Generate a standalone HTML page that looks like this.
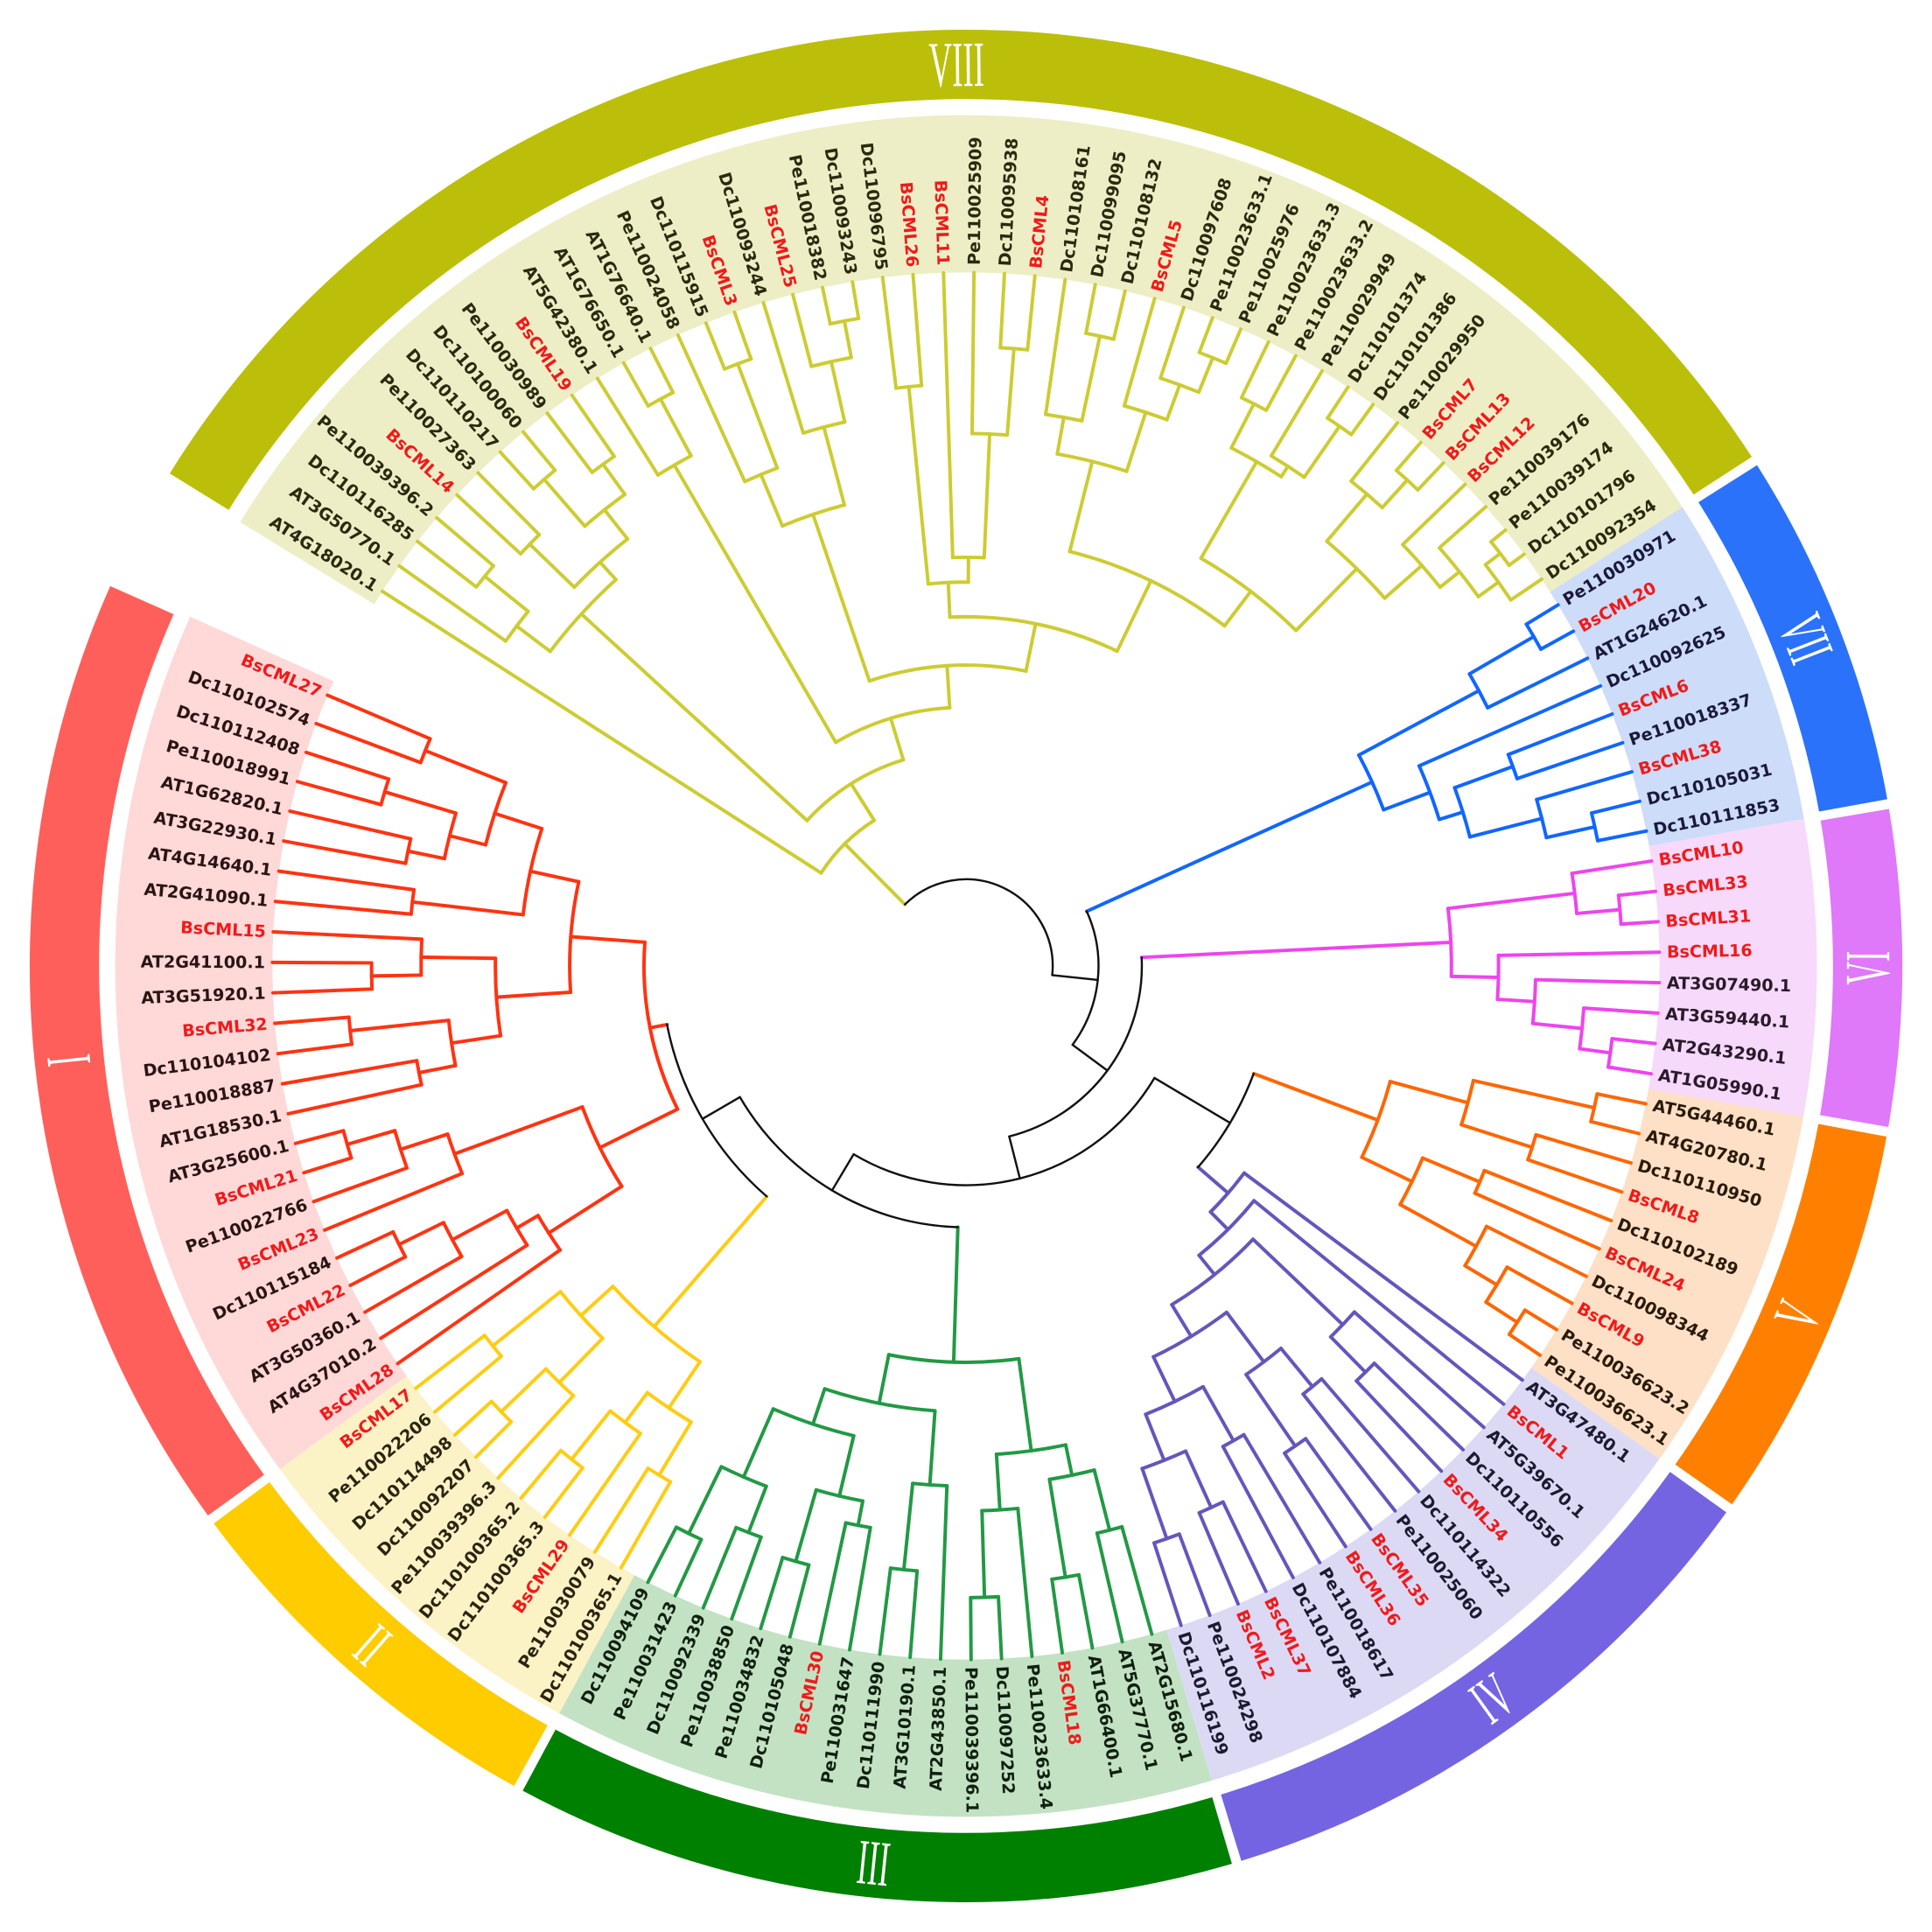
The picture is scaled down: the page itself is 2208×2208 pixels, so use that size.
<!DOCTYPE html>
<html><head><meta charset="utf-8">
<style>
html,body{margin:0;padding:0;background:#fff;}
svg{display:block;}
text{font-family:"DejaVu Sans","Liberation Sans",sans-serif;}
</style></head>
<body>
<svg id="s" xmlns="http://www.w3.org/2000/svg" width="2208" height="2208" viewBox="0 0 1560 1560"></svg>
<script>
const cx=780,cy=780,TIP=560,LR=566;
const names=["AT4G18020.1","AT3G50770.1","Dc110116285","Pe110039396.2","BsCML14","Pe110027363","Dc110110217","Dc110100060","Pe110030989","BsCML19","AT5G42380.1","AT1G76650.1","AT1G76640.1","Pe110024058","Dc110115915","BsCML3","Dc110093244","BsCML25","Pe110018382","Dc110093243","Dc110096795","BsCML26","BsCML11","Pe110025909","Dc110095938","BsCML4","Dc110108161","Dc110099095","Dc110108132","BsCML5","Dc110097608","Pe110023633.1","Pe110025976","Pe110023633.3","Pe110023633.2","Pe110029949","Dc110101374","Dc110101386","Pe110029950","BsCML7","BsCML13","BsCML12","Pe110039176","Pe110039174","Dc110101796","Dc110092354",
"Pe110030971","BsCML20","AT1G24620.1","Dc110092625","BsCML6","Pe110018337","BsCML38","Dc110105031","Dc110111853",
"BsCML10","BsCML33","BsCML31","BsCML16","AT3G07490.1","AT3G59440.1","AT2G43290.1","AT1G05990.1",
"AT5G44460.1","AT4G20780.1","Dc110110950","BsCML8","Dc110102189","BsCML24","Dc110098344","BsCML9","Pe110036623.2","Pe110036623.1",
"AT3G47480.1","BsCML1","AT5G39670.1","Dc110110556","BsCML34","Dc110114322","Pe110025060","BsCML35","BsCML36","Pe110018617","Dc110107884","BsCML37","BsCML2","Pe110024298","Dc110116199",
"AT2G15680.1","AT5G37770.1","AT1G66400.1","BsCML18","Pe110023633.4","Dc110097252","Pe110039396.1","AT2G43850.1","AT3G10190.1","Dc110111990","Pe110031647","BsCML30","Dc110105048","Pe110034832","Pe110038850","Dc110092339","Pe110031423","Dc110094109",
"Dc110100365.1","Pe110030079","BsCML29","Dc110100365.3","Dc110100365.2","Pe110039396.3","Dc110092207","Dc110114498","Pe110022206","BsCML17",
"BsCML28","AT4G37010.2","AT3G50360.1","BsCML22","Dc110115184","BsCML23","Pe110022766","BsCML21","AT3G25600.1","AT1G18530.1","Pe110018887","Dc110104102","BsCML32","AT3G51920.1","AT2G41100.1","BsCML15","AT2G41090.1","AT4G14640.1","AT3G22930.1","AT1G62820.1","Pe110018991","Dc110112408","Dc110102574","BsCML27"];
const clades=[
 {n:"VIII",s:0,e:45,band:"#bbbf09",bg:"#eeeec6",br:"#cccc33",tc:"#2a2a10"},
 {n:"VII",s:46,e:54,band:"#2b72fb",bg:"#cddcf8",br:"#1166ff",tc:"#1a1a3a"},
 {n:"VI",s:55,e:62,band:"#df78f9",bg:"#f6d9fb",br:"#ee44ee",tc:"#2a1a2a"},
 {n:"V",s:63,e:72,band:"#ff8000",bg:"#fde0c6",br:"#ff6600",tc:"#2a1a0a"},
 {n:"IV",s:73,e:87,band:"#7464e2",bg:"#dcd9f5",br:"#6655bb",tc:"#1a1a30"},
 {n:"III",s:88,e:105,band:"#008000",bg:"#c3e2c3",br:"#229944",tc:"#102010"},
 {n:"II",s:106,e:115,band:"#ffcc00",bg:"#fbf2c6",br:"#ffcc11",tc:"#2a2410"},
 {n:"I",s:116,e:139,band:"#ff5f5a",bg:"#ffd8d8",br:"#ff3311",tc:"#2a1414"}];
function ang(i){return 212.7+2.52*i;}
function P(r,a){const t=a*Math.PI/180;return [cx+r*Math.cos(t),cy+r*Math.sin(t)];}
function n(r,...c){return {r:r,c:c};}
let out=[];
function f(v){return v.toFixed(2);}
function arcPath(r,a1,a2){const p1=P(r,a1),p2=P(r,a2);const la=(a2-a1)>180?1:0;return `M${f(p1[0])} ${f(p1[1])}A${r} ${r} 0 ${la} 1 ${f(p2[0])} ${f(p2[1])}`;}
function sector(r1,r2,a1,a2,fill){const p1=P(r2,a1),p2=P(r2,a2),p3=P(r1,a2),p4=P(r1,a1);const la=(a2-a1)>180?1:0;
 out.push(`<path d="M${f(p1[0])} ${f(p1[1])}A${r2} ${r2} 0 ${la} 1 ${f(p2[0])} ${f(p2[1])}L${f(p3[0])} ${f(p3[1])}A${r1} ${r1} 0 ${la} 0 ${f(p4[0])} ${f(p4[1])}Z" fill="${fill}"/>`);}
function lay(nd){ if(typeof nd==="number") return {a:ang(nd),r:TIP,leaf:nd};
 nd.k=nd.c.map(lay); nd.a=(nd.k[0].a+nd.k[nd.k.length-1].a)/2; return nd;}
let lines=[];
function draw(nd,col,w){ if(nd.leaf!==undefined) return;
 for(const ch of nd.k){const p1=P(nd.r,ch.a),p2=P(ch.r,ch.a);
  lines.push(`<line x1="${f(p1[0])}" y1="${f(p1[1])}" x2="${f(p2[0])}" y2="${f(p2[1])}" stroke="${ch.col||col}" stroke-width="${ch.col?2.8:w}" stroke-linecap="round"/>`);
  if(!ch.col) draw(ch,col,w); }
 lines.push(`<path d="${arcPath(nd.r,nd.k[0].a,nd.k[nd.k.length-1].a)}" fill="none" stroke="${col}" stroke-width="${w}" stroke-linecap="round"/>`);}
// clade trees
const T={};
T.VIII=n(139,0,n(174,
  n(421,n(455,1,n(500,2,3)),n(440,n(490,4,5),n(470,n(520,6,7),n(500,8,9)))),
  n(209,n(468,10,n(520,11,12)),
    n(243,n(385,n(430,13,n(520,14,15)),n(450,16,n(500,17,n(530,18,19)))),
      n(282,n(310,n(470,20,21),n(330,22,n(430,23,n(500,24,25)))),
        n(345,n(420,n(450,26,n(520,27,28)),n(470,29,n(500,30,n(530,31,32)))),
          n(380,n(470,n(510,33,34),n(480,35,n(530,36,37))),n(450,n(500,38,n(530,39,40)),n(490,41,n(510,42,n(530,n(545,43,44),45)))))))))));
T.VII=n(360,n(470,n(530,46,47),48),n(400,49,n(420,n(470,50,51),n(480,52,n(520,53,54)))));
T.VI=n(392,n(495,55,n(530,56,57)),n(430,58,n(460,59,n(500,60,n(525,61,62)))));
T.V=n(355,n(420,n(520,63,64),n(480,65,66)),n(400,n(450,67,68),n(470,69,n(500,70,n(530,71,72)))));
T.IV=n(280,73,n(300,74,n(320,n(420,75,n(460,76,77)),n(350,n(400,n(440,78,79),n(470,80,81)),n(390,n(440,82,83),n(430,n(480,84,85),n(490,86,87)))))));
T.III=n(320,n(395,n(420,n(470,88,89),n(500,90,91)),n(440,92,n(510,93,94))),n(360,n(420,95,n(490,96,97)),n(390,n(440,n(460,98,99),n(500,100,101)),n(450,n(490,102,103),n(510,104,105)))));
T.II=n(385,n(430,n(480,106,107),n(460,108,n(510,109,110))),n(420,n(470,111,n(520,112,113)),n(490,114,115)));
T.I=n(260,n(330,n(400,116,n(420,117,n(470,118,n(510,119,120)))),n(440,121,n(480,122,n(520,123,124)))),n(320,n(380,n(420,n(450,125,126),n(500,127,128)),n(440,n(480,129,130),131)),n(360,n(450,132,133),n(400,n(430,n(460,134,135),n(490,136,137)),n(470,138,139)))));
for(const c of clades){lay(T[c.n]);T[c.n].col=c.br;}
// backgrounds and bands
for(const c of clades){const a1=ang(c.s)-1.26,a2=ang(c.e)+1.26;
 sector(560,687,a1,a2,c.bg); sector(700,756,a1+0.3,a2-0.3,c.band);}
// black backbone
const B245=n(246,T.II,T.I), B211=n(211,T.III,B245), B248=n(248,T.V,T.IV), B177=n(177,B248,B211),
 B142=n(142,T.VI,B177), B107=n(107,T.VII,B142), B1=n(70,T.VIII,B107);
function lay2(nd){ if(nd.col) return nd; nd.k=nd.c.map(lay2); nd.a=(nd.k[0].a+nd.k[nd.k.length-1].a)/2; return nd;}
lay2(B1);
draw(B1,"#111",1.7);
for(const c of clades){draw(T[c.n],c.br,2.8);}
out=out.concat(lines);
// labels
for(let i=0;i<names.length;i++){const a=ang(i);const p=P(LR,a);const nm=names[i];
 let cl=clades.find(c=>i>=c.s&&i<=c.e);
 const red=nm.startsWith("BsCML");const col=red?"#f01a1a":cl.tc;
 const am=((a%360)+360)%360; const right=Math.cos(a*Math.PI/180)>0;
 const rot=right?am:am+180;
 out.push(`<text transform="translate(${f(p[0])},${f(p[1])}) rotate(${f(rot)})" text-anchor="${right?"start":"end"}" dominant-baseline="central" font-size="13.5" font-weight="bold" fill="${col}">${nm}</text>`);}
// roman numerals
for(const c of clades){const a=(ang(c.s)+ang(c.e))/2;const p=P(728,a);const s=Math.sin(a*Math.PI/180);
 const rot=s<0?a+90:a-90;
 out.push(`<text transform="translate(${f(p[0])},${f(p[1])}) rotate(${f(rot)}) scale(0.5,1)" text-anchor="middle" dominant-baseline="central" font-size="52" fill="#fff" style="font-family:'Liberation Serif',serif">${c.n}</text>`);}
document.getElementById("s").innerHTML=out.join("");
</script>
</body></html>
